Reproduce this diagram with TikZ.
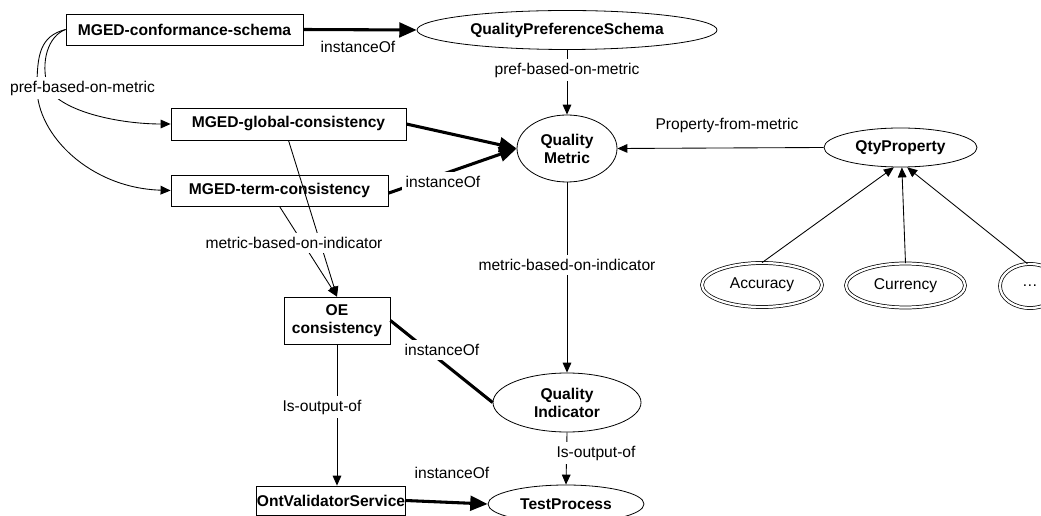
\documentclass[tikz,border=0pt]{standalone}
\usepackage{fontspec}
\setmainfont{Liberation Sans}
\usetikzlibrary{shapes.geometric,arrows.meta}
\begin{document}
\begin{tikzpicture}[x=0.75pt,y=-0.75pt,
  every node/.style={font=\fontsize{11.7}{13.5}\selectfont, inner sep=0pt, align=center},
  rbox/.style={draw, line width=0.6pt, rectangle, font=\fontsize{11.7}{13.5}\selectfont\bfseries},
  ell/.style={draw, line width=0.6pt, ellipse, font=\fontsize{11.7}{13.5}\selectfont\bfseries},
  dell/.style={draw, ellipse, double, double distance=1.7pt, line width=0.55pt},
  inst/.style={line width=2.3pt, -{Triangle[length=13pt,width=11pt]}},
  instline/.style={line width=2.3pt},
  thin/.style={line width=0.65pt, -{Triangle[length=7.5pt,width=6.5pt]}},
  lbl/.style={fill=white, inner sep=3pt}
]
\useasboundingbox (0,0) rectangle (1041,516);
% nodes
\node[rbox, minimum width=177.75pt, minimum height=23.25pt] (conf) at (184.5,29.5) {MGED-conformance-schema};
\node[ell, minimum width=225pt, minimum height=29.25pt] (qps) at (567,30) {QualityPreferenceSchema};
\node[rbox, minimum width=176.25pt, minimum height=24pt] (glob) at (288.5,124) {MGED-global-consistency};
\node[rbox, minimum width=162.75pt, minimum height=23.25pt] (term) at (279.5,190.5) {MGED-term-consistency};
\node[ell, minimum width=75pt, minimum height=50.25pt] (qm) at (567,148.5) {Quality\\Metric};
\node[ell, minimum width=114.75pt, minimum height=29.25pt] (qty) at (900.5,147.5) {QtyProperty};
\node[dell, minimum width=90pt, minimum height=33pt] (acc) at (762,285) {Accuracy};
\node[dell, minimum width=89.25pt, minimum height=33pt] (cur) at (905.5,285.5) {Currency};
\node[dell, minimum width=45pt, minimum height=33pt] (dots) at (1030,286) {…};
\node[rbox, minimum width=79.5pt, minimum height=35.25pt] (oe) at (337,320.5) {OE\\consistency};
\node[ell, minimum width=111pt, minimum height=44.25pt] (qi) at (567,402.5) {Quality\\Indicator};
\node[rbox, minimum width=111pt, minimum height=21.75pt] (ovs) at (331,500.5) {OntValidatorService};
\node[ell, minimum width=117pt, minimum height=28.5pt] (tp) at (566,504) {TestProcess};
% edges
\draw[inst] (conf.east) -- (qps.west);
\draw[thin] (qps.south) -- (qm.north);
\draw[inst] (glob.east) -- (qm.west);
\draw[inst] ([yshift=-2pt]term.east) -- (qm.west);
\draw[thin] (qty.west) -- (qm.east);
\draw[thin] (acc.north) -- ([xshift=-5pt]qty.south);
\draw[thin] (cur.north) -- ([xshift=1pt]qty.south);
\draw[thin] ([xshift=-2pt]dots.north) -- ([xshift=5pt]qty.south);
\draw[thin] (qm.south) -- (qi.north);
\draw[thin] (glob.south) -- (oe.north);
\draw[thin] (term.south) -- (oe.north);
\draw[instline] (oe.east) -- (qi.west);
\draw[thin] (oe.south) -- (oe.south |- ovs.north);
\draw[thin] (qi.south) -- (tp.north);
\draw[inst] (ovs.east) -- (tp.west);
\draw[thin] (conf.west) .. controls (40,36) and (37,55) .. (37,88) .. controls (37,135) and (90,188) .. (term.west);
\draw[thin] (conf.west) .. controls (48,36) and (40,62) .. (48,88) .. controls (62,112) and (120,124) .. (glob.west);
% labels
\node (l1) at (358,47) {instanceOf};
\node[lbl] (l2) at (567,70) {pref-based-on-metric};
\node[lbl] (l3) at (82.5,88) {pref-based-on-metric};
\node[lbl] (l4) at (443,182) {instanceOf};
\node (l5) at (727,125) {Property-from-metric};
\node[lbl] (l6) at (567,265) {metric-based-on-indicator};
\node[lbl] (l7) at (294,243) {metric-based-on-indicator};
\node[lbl] (l8) at (442,350) {instanceOf};
\node[lbl] (l9) at (322,407) {Is-output-of};
\node[lbl] (l10) at (596,453) {Is-output-of};
\node (l11) at (452,473) {instanceOf};
\end{tikzpicture}
\end{document}
